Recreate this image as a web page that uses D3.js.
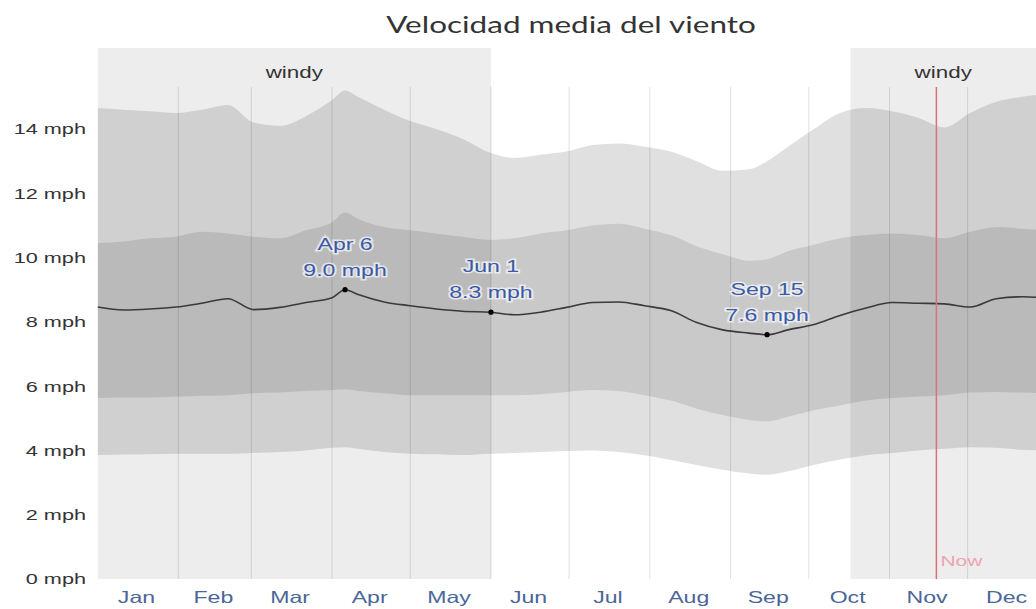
<!DOCTYPE html>
<html>
<head>
<meta charset="utf-8">
<script src="https://cdn.jsdelivr.net/npm/d3@7"></script>
<style>
  html, body { margin: 0; padding: 0; background: #fff; }
  svg { display: block; }
</style>
</head>
<body>
<svg id="chart" width="1036" height="609"></svg>
<script>
// Day of year for each sample (0 = Jan 1)
const days = [0,10,20,30,40,50,60,70,80,90,95,100,110,120,130,140,151,160,170,180,190,200,210,220,230,240,250,257,265,275,285,295,305,315,325,335,345,355,365];
// 10th–90th and 25th–75th percentile bands (mph)
const p10 = [3.86,3.87,3.88,3.9,3.9,3.9,3.92,3.95,4.0,4.08,4.1,4.05,3.95,3.9,3.88,3.86,3.9,3.92,3.95,3.98,4.0,3.95,3.85,3.7,3.55,3.4,3.28,3.24,3.35,3.55,3.72,3.85,3.92,4.0,4.05,4.1,4.08,4.02,4.0];
const p25 = [5.63,5.65,5.65,5.67,5.7,5.72,5.78,5.8,5.85,5.88,5.9,5.85,5.78,5.72,5.72,5.72,5.72,5.72,5.75,5.82,5.88,5.85,5.72,5.55,5.3,5.1,4.95,4.9,5.05,5.25,5.4,5.55,5.63,5.68,5.72,5.8,5.82,5.8,5.78];
const p75 = [10.45,10.5,10.6,10.65,10.8,10.75,10.65,10.6,10.85,11.1,11.4,11.2,10.95,10.85,10.75,10.65,10.55,10.6,10.75,10.85,11.0,11.05,10.9,10.7,10.35,10.1,9.9,9.95,10.2,10.4,10.6,10.7,10.75,10.7,10.6,10.8,10.95,10.9,10.85];
const p90 = [14.65,14.6,14.55,14.5,14.6,14.75,14.2,14.1,14.4,14.9,15.2,15.0,14.6,14.25,14.0,13.7,13.25,13.1,13.2,13.3,13.5,13.55,13.45,13.3,13.0,12.7,12.75,13.0,13.45,14.0,14.5,14.65,14.55,14.35,14.05,14.5,14.85,15.0,15.1];
// Average wind speed (mph)
const meanSpeed = [8.46,8.37,8.4,8.46,8.58,8.72,8.38,8.45,8.6,8.75,9.0,8.85,8.62,8.5,8.4,8.33,8.3,8.22,8.3,8.45,8.6,8.62,8.5,8.35,7.98,7.75,7.65,7.6,7.75,7.92,8.2,8.43,8.6,8.58,8.56,8.46,8.72,8.78,8.74];

const monthNames = ["Jan","Feb","Mar","Apr","May","Jun","Jul","Aug","Sep","Oct","Nov","Dec"];
const monthStarts = [0,31,59,90,120,151,181,212,243,273,304,334,365];
const yTicks = [0,2,4,6,8,10,12,14];

// Windy season spans (start day, end day)
const windyStart = [0, 289];
const windyEnd = [151, 365];
const windyLabel = "windy";

// Highlighted days
const markDays = [95, 151, 257];
const markLabels = ["Apr 6", "Jun 1", "Sep 15"];
const markValues = [9.0, 8.3, 7.6];

const nowDay = 322;
const titleText = "Velocidad media del viento";

const W = 1036, H = 609;
const SX = 1.4; // horizontal text stretch
const plotTop = 48, gridTop = 87;

const x = d3.scaleLinear().domain([0, 365]).range([97.6, 1048.4]);
const y = d3.scaleLinear().domain([0, 14]).range([579, 129]);
const plotBottom = y(0);
const plotLeft = x(0);

const svg = d3.select("#chart");

svg.append("defs").append("clipPath").attr("id", "plotClip")
  .append("rect")
  .attr("x", plotLeft).attr("y", plotTop)
  .attr("width", W - plotLeft).attr("height", plotBottom - plotTop);

const plot = svg.append("g").attr("clip-path", "url(#plotClip)");

// windy season background
plot.selectAll("rect.windy")
  .data(d3.range(windyStart.length))
  .join("rect")
  .attr("class", "windy")
  .attr("x", i => x(windyStart[i]))
  .attr("y", plotTop)
  .attr("width", i => x(windyEnd[i]) - x(windyStart[i]))
  .attr("height", plotBottom - plotTop)
  .attr("fill", "#ededed");

const idx = d3.range(days.length);
const curve = d3.curveMonotoneX;

// percentile bands
plot.append("path")
  .datum(idx)
  .attr("d", d3.area().curve(curve).x(i => x(days[i])).y0(i => y(p10[i])).y1(i => y(p90[i])))
  .attr("fill", "rgba(0,0,0,0.12)");

plot.append("path")
  .datum(idx)
  .attr("d", d3.area().curve(curve).x(i => x(days[i])).y0(i => y(p25[i])).y1(i => y(p75[i])))
  .attr("fill", "rgba(0,0,0,0.10)");

// month boundary grid lines
plot.selectAll("line.grid")
  .data(monthStarts.slice(1, 12))
  .join("line")
  .attr("class", "grid")
  .attr("x1", d => x(d)).attr("x2", d => x(d))
  .attr("y1", gridTop).attr("y2", plotBottom)
  .attr("stroke", "rgba(0,0,0,0.12)")
  .attr("stroke-width", 1);

// average line
plot.append("path")
  .datum(idx)
  .attr("d", d3.line().curve(curve).x(i => x(days[i])).y(i => y(meanSpeed[i])))
  .attr("fill", "none")
  .attr("stroke", "#3a3a3a")
  .attr("stroke-width", 1.6);

// "Now" marker
plot.append("line")
  .attr("x1", x(nowDay)).attr("x2", x(nowDay))
  .attr("y1", gridTop).attr("y2", plotBottom)
  .attr("stroke", "#dc6f7c")
  .attr("stroke-width", 1.5);

function stretch(sel, px, py) {
  sel.attr("transform", `translate(${px},${py}) scale(${SX},1)`);
}

svg.append("text")
  .text("Now")
  .attr("font-family", "Liberation Sans, Arial, sans-serif")
  .attr("font-size", 15)
  .attr("fill", "#f0a3ad")
  .call(stretch, x(nowDay) + 4, 566);

// windy labels, centred on the visible part of each span
d3.range(windyStart.length).forEach(i => {
  const a = Math.max(x(windyStart[i]), plotLeft);
  const b = Math.min(x(windyEnd[i]), W);
  svg.append("text")
    .text(windyLabel)
    .attr("text-anchor", "middle")
    .attr("font-family", "Liberation Sans, Arial, sans-serif")
    .attr("font-size", 16)
    .attr("fill", "#333")
    .call(stretch, (a + b) / 2, 78);
});

// highlighted points
const marks = svg.append("g");
d3.range(markDays.length).forEach(i => {
  const px = x(markDays[i]), py = y(markValues[i]);
  const g = marks.append("g");
  [markLabels[i], markValues[i].toFixed(1) + " mph"].forEach((t, k) => {
    g.append("text")
      .text(t)
      .attr("text-anchor", "middle")
      .attr("font-family", "Liberation Sans, Arial, sans-serif")
      .attr("font-size", 16.5)
      .attr("fill", "#3a5aa8")
      .attr("stroke", "rgba(255,255,255,0.65)")
      .attr("stroke-width", 3)
      .attr("paint-order", "stroke")
      .call(stretch, px, py - 40 + k * 26);
  });
  g.append("circle")
    .attr("cx", px).attr("cy", py).attr("r", 2.6)
    .attr("fill", "#000");
});

// y axis
const yAxis = svg.append("g")
  .attr("transform", `translate(86,0)`)
  .call(d3.axisLeft(y).tickValues(yTicks).tickFormat(d => d + " mph").tickSize(0).tickPadding(0));
yAxis.select(".domain").remove();
yAxis.selectAll("text")
  .attr("font-family", "Liberation Sans, Arial, sans-serif")
  .attr("font-size", 15.5)
  .attr("fill", "#333")
  .attr("transform", `scale(${SX},1)`);

// x axis: month names at mid-month
const monthMids = d3.range(12).map(i => (monthStarts[i] + monthStarts[i + 1]) / 2);
const xAxis = svg.append("g")
  .attr("transform", `translate(-2,${plotBottom})`)
  .call(d3.axisBottom(x).tickValues(monthMids).tickFormat((d, i) => monthNames[i]).tickSize(0).tickPadding(0));
xAxis.select(".domain").remove();
xAxis.selectAll("text")
  .attr("font-family", "Liberation Sans, Arial, sans-serif")
  .attr("font-size", 16.5)
  .attr("fill", "#4b6699")
  .attr("dy", null)
  .attr("y", 24)
  .attr("transform", `scale(${SX},1)`)
  .attr("x", 0);
xAxis.selectAll(".tick text").each(function () { d3.select(this).attr("transform", `scale(${SX},1)`); });

// title
svg.append("text")
  .text(titleText)
  .attr("text-anchor", "middle")
  .attr("font-family", "Lato, sans-serif")
  .attr("font-size", 22.5)
  .attr("fill", "#333")
  .call(stretch, 571, 33);
</script>
</body>
</html>
